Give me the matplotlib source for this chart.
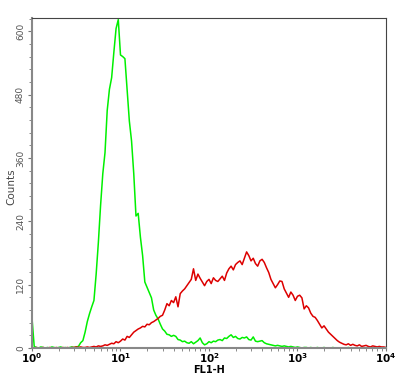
import numpy as np
import matplotlib
matplotlib.use("Agg")
import matplotlib.pyplot as plt
from matplotlib.ticker import MultipleLocator, FixedLocator, LogLocator, NullFormatter

# channel positions in decades (log10 of FL1-H), step 0.025
decade_step = 0.025

green_counts = [
    57, 3, 1, 0, 2, 1, 0, 1, 0, 2,
    1, 0, 1, 2, 0, 1, 0, 1, 2, 1,
    2, 3, 10, 14, 30, 50, 65, 78, 90, 140,
    200, 270, 330, 370, 450, 490, 512, 560, 605, 622,
    555, 552, 548, 490, 430, 392, 330, 250, 255, 210,
    175, 125, 115, 105, 95, 72, 62, 55, 45, 36,
    32, 26, 25, 22, 24, 22, 16, 15, 12, 13,
    10, 9, 12, 8, 11, 14, 19, 10, 6, 8,
    12, 10, 13, 12, 15, 16, 14, 19, 18, 22,
    25, 20, 22, 18, 17, 20, 19, 21, 16, 15,
    21, 13, 12, 13, 14, 10, 8, 7, 6, 5,
    4, 5, 4, 3, 4, 3, 2, 3, 2, 1,
    2, 1, 0, 1, 1, 0, 1, 0, 0, 1,
    0, 0, 1, 0, 0, 0, 1, 0, 0, 0,
    0, 0, 0, 1, 0, 0, 0, 0, 0, 0,
    0, 0, 0, 0, 0, 0, 0, 0, 0, 0,
    0,
]

red_counts = [
    1, 0, 1, 0, 0, 1, 0, 0, 1, 0,
    0, 1, 0, 0, 1, 0, 1, 0, 1, 1,
    2, 1, 2, 1, 1, 2, 1, 2, 3, 2,
    4, 3, 4, 6, 5, 7, 9, 8, 12, 10,
    13, 17, 15, 22, 20, 25, 30, 33, 36, 38,
    41, 40, 45, 44, 48, 50, 53, 56, 60, 62,
    72, 84, 80, 90, 86, 97, 78, 103, 108, 112,
    118, 124, 130, 150, 128, 140, 132, 125, 118, 126,
    130, 122, 133, 128, 126, 131, 136, 128, 142, 150,
    155, 148, 158, 162, 165, 158, 170, 182, 175, 165,
    170, 160, 155, 165, 168, 162, 152, 143, 130, 122,
    114, 120, 127, 126, 112, 104, 96, 106, 100, 90,
    98, 100, 95, 74, 80, 76, 66, 60, 58, 52,
    45, 38, 42, 36, 30, 26, 22, 18, 14, 11,
    9, 7, 6, 8, 5, 7, 5, 4, 6, 3,
    4, 5, 3, 2, 4, 3, 2, 3, 2, 2,
    1,
]

y_ticks = [0, 120, 240, 360, 480, 600]
x_ticks = [1, 10, 100, 1000, 10000]
x_tick_labels = ["$\\mathbf{10^{0}}$", "$\\mathbf{10^{1}}$", "$\\mathbf{10^{2}}$",
                 "$\\mathbf{10^{3}}$", "$\\mathbf{10^{4}}$"]

fl1_green = 10 ** (np.arange(len(green_counts)) * decade_step)
fl1_red = 10 ** (np.arange(len(red_counts)) * decade_step)

fig = plt.figure(figsize=(4.06, 3.80), dpi=100)
ax = fig.add_axes([0.0788, 0.0842, 0.8719, 0.8684])

ax.plot(fl1_green, green_counts, color="#00f000", lw=1.1)
ax.plot(fl1_red, red_counts, color="#dd0000", lw=1.1)

ax.set_xscale("log")
ax.set_xlim(1, 10000)
ax.set_ylim(0, 625)

ax.xaxis.set_major_locator(FixedLocator(x_ticks))
ax.set_xticklabels(x_tick_labels, fontsize=7.5)
ax.xaxis.set_minor_locator(LogLocator(base=10, subs=np.arange(2, 10)))
ax.xaxis.set_minor_formatter(NullFormatter())

ax.yaxis.set_major_locator(FixedLocator(y_ticks))
ax.yaxis.set_minor_locator(MultipleLocator(24))
ax.set_yticklabels([str(v) for v in y_ticks], fontsize=6.5, color="#555555",
                   rotation=90, va="center")

ax.tick_params(axis="y", which="major", direction="out", length=3, width=0.8,
               color="#777777", pad=2)
ax.tick_params(axis="x", which="major", direction="out", length=2, width=0.8,
               color="#777777", pad=0.5)
ax.tick_params(axis="both", which="minor", direction="out", length=2, width=0.6,
               color="#777777")

for side in ["left", "bottom"]:
    ax.spines[side].set_color("#888888")
    ax.spines[side].set_linewidth(1.5)
for side in ["top", "right"]:
    ax.spines[side].set_color("#444444")
    ax.spines[side].set_linewidth(0.8)

ax.set_xlabel("FL1-H", fontsize=7, fontweight="bold")
ax.xaxis.set_label_coords(0.5, -0.053)
ax.set_ylabel("Counts", fontsize=7.5, color="#444444")
ax.yaxis.set_label_coords(-0.045, 0.49)

fig.savefig("out.png", dpi=100)
